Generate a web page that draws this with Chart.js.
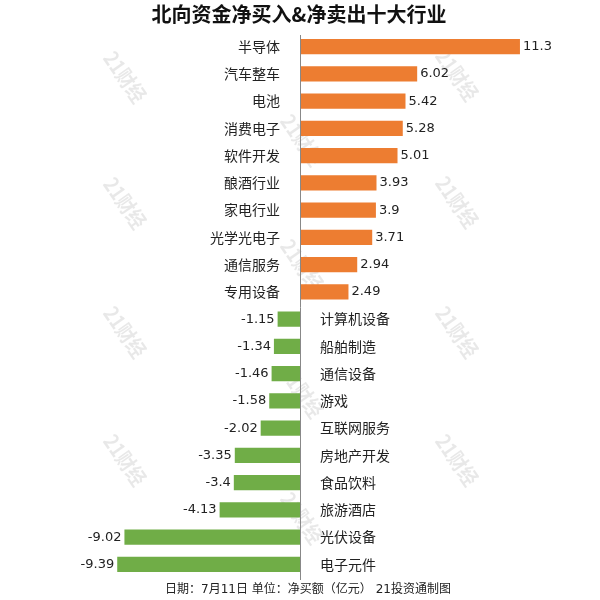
<!DOCTYPE html>
<html><head><meta charset="utf-8">
<script src="https://cdn.jsdelivr.net/npm/chart.js@4/dist/chart.umd.min.js"></script>
<style>html,body{margin:0;padding:0;background:#fff;}#wrap{width:600px;height:600px;}</style>
</head><body><div id="wrap"><canvas id="c" width="600" height="600"></canvas></div>
<script>
const categories = ["半导体","汽车整车","电池","消费电子","软件开发","酿酒行业","家电行业","光学光电子","通信服务","专用设备","计算机设备","船舶制造","通信设备","游戏","互联网服务","房地产开发","食品饮料","旅游酒店","光伏设备","电子元件"];
const values = [11.3,6.02,5.42,5.28,5.01,3.93,3.9,3.71,2.94,2.49,-1.15,-1.34,-1.46,-1.58,-2.02,-3.35,-3.4,-4.13,-9.02,-9.39];
const titleText = "北向资金净买入&净卖出十大行业";
const footerText = "日期：7月11日 单位：净买额（亿元） 21投资通制图";
const watermarkText = "21财经";

const FONT = '"DejaVu Sans","Noto Sans CJK SC",sans-serif';

const deco = {
  id: 'deco',
  beforeDraw(chart) {
    const ctx = chart.ctx;
    ctx.save();
    ctx.fillStyle = '#fff';
    ctx.fillRect(0,0,chart.width,chart.height);
    ctx.fillStyle = 'rgba(0,0,0,0.09)';
    ctx.font = 'bold 21px "Noto Sans CJK SC",sans-serif';
    ctx.textAlign = 'center'; ctx.textBaseline = 'middle';
    const cols = [[125,[77,203,332,460]],[302,[140,265,392,518]],[457,[75,202,332,460]]];
    cols.forEach(([x,ys]) => ys.forEach(y => {
      ctx.save(); ctx.translate(x,y); ctx.rotate(55*Math.PI/180); ctx.scale(0.85,1);
      ctx.fillText(watermarkText,0,0); ctx.restore();
    }));
    ctx.restore();
  },
  afterDraw(chart) {
    const ctx = chart.ctx;
    const xs = chart.scales.x, ys = chart.scales.y;
    const ca = chart.chartArea;
    const x0 = xs.getPixelForValue(0);
    ctx.save();
    ctx.strokeStyle = '#888'; ctx.lineWidth = 1;
    ctx.beginPath(); ctx.moveTo(Math.round(x0)+0.5, ca.top+2); ctx.lineTo(Math.round(x0)+0.5, ca.bottom+2); ctx.stroke();
    ctx.fillStyle = '#111';
    ctx.font = 'bold 20px "Noto Sans CJK SC",sans-serif';
    ctx.textAlign = 'center'; ctx.textBaseline = 'middle';
    ctx.fillText(titleText, 299, 14);
    ctx.font = '12px ' + FONT;
    ctx.fillStyle = '#222';
    ctx.fillText(footerText, 308, 590);
    ctx.textBaseline = 'middle';
    categories.forEach((c,i) => {
      const y = ys.getPixelForValue(i);
      const v = values[i];
      const xe = xs.getPixelForValue(v);
      ctx.fillStyle = '#222';
      const cf = '14px "Noto Sans CJK SC",sans-serif';
      const nf = '13px ' + FONT;
      if (v >= 0) {
        ctx.font = cf; ctx.textAlign = 'right'; ctx.fillText(c, x0 - 20, y);
        ctx.font = nf; ctx.textAlign = 'left'; ctx.fillText(String(v), xe + 3, y);
      } else {
        ctx.font = cf; ctx.textAlign = 'left'; ctx.fillText(c, x0 + 20, y);
        ctx.font = nf; ctx.textAlign = 'right'; ctx.fillText(String(v), xe - 3, y);
      }
    });
    ctx.restore();
  }
};

new Chart(document.getElementById('c'), {
  type: 'bar',
  data: {
    labels: categories,
    datasets: [{
      data: values,
      backgroundColor: values.map(v => v >= 0 ? '#ED7D31' : '#70AD47'),
      borderWidth: 0,
      barPercentage: 0.56,
      categoryPercentage: 1
    }]
  },
  options: {
    indexAxis: 'y',
    responsive: false,
    animation: false,
    devicePixelRatio: 1,
    layout: { padding: { top: 33, bottom: 22, left: 60, right: 60 } },
    plugins: { legend: { display: false }, tooltip: { enabled: false }, title: { display: false } },
    scales: {
      x: { display: false, min: -12.33, max: 12.33 },
      y: { display: false }
    }
  },
  plugins: [deco]
});
</script>
</body></html>
